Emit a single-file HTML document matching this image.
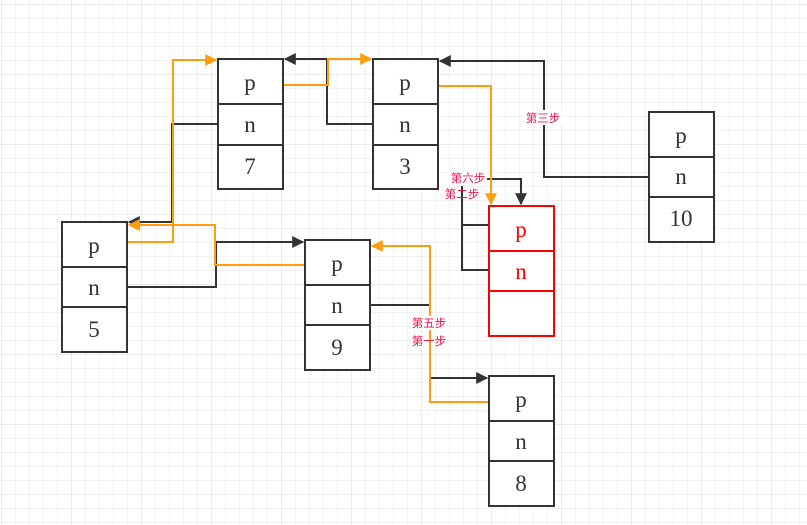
<!DOCTYPE html>
<html><head><meta charset="utf-8"><style>
html,body{margin:0;padding:0;background:#fff;}
svg{display:block;}
.t{font-family:"Liberation Serif",serif;font-size:23px;fill:#333;text-anchor:middle;}
.l{font-family:"Liberation Sans","Noto Sans CJK SC",sans-serif;font-size:11.5px;fill:#f0144a;text-anchor:middle;}
</style></head><body>
<svg width="807" height="525" viewBox="0 0 807 525" xmlns="http://www.w3.org/2000/svg">
<defs>
<pattern id="g" x="1" y="4" width="14" height="14" patternUnits="userSpaceOnUse">
<path d="M0 0H14M0 0V14" stroke="#e6e6e6" stroke-width="1" fill="none"/>
</pattern>
<pattern id="G" x="1" y="4" width="70" height="70" patternUnits="userSpaceOnUse">
<path d="M0 0H70M0 0V70" stroke="#d8d8d8" stroke-width="1" fill="none"/>
</pattern>
<marker id="ab" viewBox="0 0 10 10" refX="9" refY="5" markerWidth="12" markerHeight="12" markerUnits="userSpaceOnUse" orient="auto"><path d="M0 0L10 5L0 10z" fill="#333"/></marker>
<marker id="ao" viewBox="0 0 10 10" refX="9" refY="5" markerWidth="12" markerHeight="12" markerUnits="userSpaceOnUse" orient="auto"><path d="M0 0L10 5L0 10z" fill="#ff9d0f"/></marker>
</defs>
<rect width="807" height="525" fill="url(#g)"/>
<rect width="807" height="525" fill="url(#G)"/>

<g fill="none" stroke-width="2">
<polyline points="218,124 172,124 172,222 129,222" stroke="#333" marker-end="url(#ab)"/>
<polyline points="127,287 216,287 216,242 303,242" stroke="#333" marker-end="url(#ab)"/>
<polyline points="373,124 327,124 327,59 285,59" stroke="#333" marker-end="url(#ab)"/>
<polyline points="649,177 544,177 544,61 440,61" stroke="#333" marker-end="url(#ab)"/>
<polyline points="486,179 521,179 521,204" stroke="#333" marker-end="url(#ab)"/>
<polyline points="489,225 462,225 462,270 489,270" stroke="#333"/>
<line x1="462" y1="186" x2="462" y2="225" stroke="#333"/>
<polyline points="370,305 430,305 430,378 487,378" stroke="#333" marker-end="url(#ab)"/>
<polyline points="127,242 173,242 173,60 216,60" stroke="#ff9d0f" marker-end="url(#ao)"/>
<polyline points="305,265 215,265 215,225 129,225" stroke="#ff9d0f" marker-end="url(#ao)"/>
<polyline points="283,85 328,85 328,59 371,59" stroke="#ff9d0f" marker-end="url(#ao)"/>
<polyline points="438,86 491,86 491,204" stroke="#ff9d0f" marker-end="url(#ao)"/>
<polyline points="489,402 430,402 430,246 372,246" stroke="#ff9d0f" marker-end="url(#ao)"/>
</g>

<g fill="#fff" stroke="#333" stroke-width="2">
<rect x="218" y="59" width="65" height="130"/><line x1="218" y1="104" x2="283" y2="104"/><line x1="218" y1="145" x2="283" y2="145"/>
<rect x="373" y="59" width="65" height="130"/><line x1="373" y1="104" x2="438" y2="104"/><line x1="373" y1="145" x2="438" y2="145"/>
<rect x="649" y="112" width="65" height="130"/><line x1="649" y1="157" x2="714" y2="157"/><line x1="649" y1="197" x2="714" y2="197"/>
<rect x="62" y="222" width="65" height="130"/><line x1="62" y1="267" x2="127" y2="267"/><line x1="62" y1="307" x2="127" y2="307"/>
<rect x="305" y="240" width="65" height="130"/><line x1="305" y1="285" x2="370" y2="285"/><line x1="305" y1="325" x2="370" y2="325"/>
<rect x="489" y="376" width="65" height="130"/><line x1="489" y1="421" x2="554" y2="421"/><line x1="489" y1="461" x2="554" y2="461"/>
</g>
<g fill="#fff" stroke="#f00" stroke-width="2">
<rect x="489" y="206" width="65" height="130"/><line x1="489" y1="251" x2="554" y2="251"/><line x1="489" y1="291" x2="554" y2="291"/>
</g>

<text class="t" x="250" y="90">p</text><text class="t" x="250" y="132">n</text><text class="t" x="250" y="174">7</text>
<text class="t" x="405" y="90">p</text><text class="t" x="405" y="132">n</text><text class="t" x="405" y="174">3</text>
<text class="t" x="681" y="143">p</text><text class="t" x="681" y="184">n</text><text class="t" x="681" y="226">10</text>
<text class="t" x="94" y="253">p</text><text class="t" x="94" y="295">n</text><text class="t" x="94" y="337">5</text>
<text class="t" x="337" y="271">p</text><text class="t" x="337" y="313">n</text><text class="t" x="337" y="355">9</text>
<text class="t" x="521" y="407">p</text><text class="t" x="521" y="449">n</text><text class="t" x="521" y="491">8</text>
<text class="t" x="521" y="237" style="fill:#f00">p</text><text class="t" x="521" y="279" style="fill:#f00">n</text>

<g>
<rect x="524" y="110" width="39" height="15" fill="#fff"/><text class="l" x="543" y="122">第三步</text>
<rect x="449" y="171" width="38" height="14" fill="#fff"/><text class="l" x="468" y="182">第六步</text>
<text class="l" x="462" y="198">第二步</text>
<rect x="410" y="316" width="39" height="14" fill="#fff"/><text class="l" x="429" y="327">第五步</text>
<text class="l" x="429" y="345">第一步</text>
</g>
</svg>
</body></html>
